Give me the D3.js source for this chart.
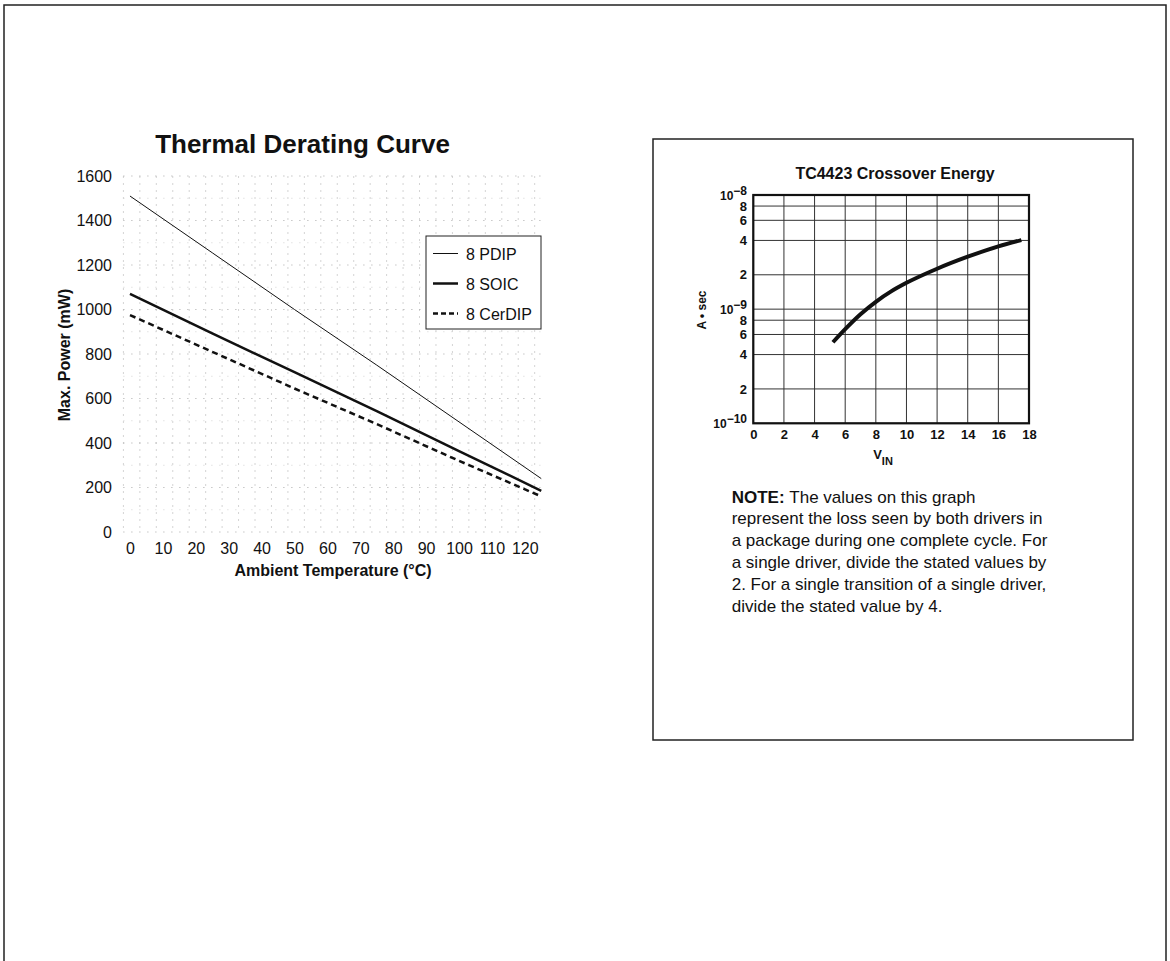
<!DOCTYPE html>
<html>
<head>
<meta charset="utf-8">
<script src="https://cdn.jsdelivr.net/npm/d3@7"></script>
<style>
  body { margin: 0; background: #fff; }
  svg text { font-family: "Liberation Sans", Arial, Helvetica, sans-serif; fill: #111; }
</style>
</head>
<body>
<div id="page"></div>
<script>
// ---- Thermal derating data ----
const tempTicks = [0, 10, 20, 30, 40, 50, 60, 70, 80, 90, 100, 110, 120];
const powerTicks = [0, 200, 400, 600, 800, 1000, 1200, 1400, 1600];
const seriesTemps = [0, 25, 50, 75, 100, 125];
const pdipPower = [1510, 1255, 1000, 750, 495, 240];
const soicPower = [1070, 893, 718, 543, 364, 185];
const cerdipPower = [975, 810, 645, 485, 320, 160];
const packageNames = ["8 PDIP", "8 SOIC", "8 CerDIP"];

// ---- Crossover energy data ----
const vinTicks = [0, 2, 4, 6, 8, 10, 12, 14, 16, 18];
const energyTicks = [1e-10, 2e-10, 4e-10, 6e-10, 8e-10, 1e-9, 2e-9, 4e-9, 6e-9, 8e-9, 1e-8];
const crossoverVin = [5.2, 6, 7, 8, 9, 10, 12, 14, 16, 17.5];
const crossoverEnergy = [5.13e-10, 6.68e-10, 9.02e-10, 1.16e-9, 1.43e-9, 1.70e-9, 2.26e-9, 2.88e-9, 3.55e-9, 4.03e-9];

const noteLines = [
  "The values on this graph",
  "represent the loss seen by both drivers in",
  "a package during one complete cycle. For",
  "a single driver, divide the stated values by",
  "2. For a single transition of a single driver,",
  "divide the stated value by 4."
];

const svg = d3.select("#page").append("svg")
  .attr("width", 1170)
  .attr("height", 961);

// page frame (top, left, right)
svg.append("path")
  .attr("d", "M4,961 V5 H1166 V961")
  .attr("fill", "none")
  .attr("stroke", "#222")
  .attr("stroke-width", 1.5);

/**
 * Left chart: thermal derating curve
 */
function drawDerating() {
  const g = svg.append("g");
  const x = d3.scaleLinear().domain([-2, 126.5]).range([123.4, 546.2]);
  const y = d3.scaleLinear().domain([0, 1600]).range([532, 176]);

  // faint dotted grid
  const gridX = d3.range(-2, 127, 5);
  g.selectAll(".vgrid").data(gridX).join("line")
    .attr("class", "vgrid")
    .attr("x1", d => x(d)).attr("x2", d => x(d))
    .attr("y1", y(1600)).attr("y2", y(0))
    .attr("stroke", "#d4d4d4")
    .attr("stroke-dasharray", "2,5");

  const gridY = d3.range(0, 1601, 100);
  g.selectAll(".hgrid").data(gridY).join("line")
    .attr("class", "hgrid")
    .attr("x1", x(-2)).attr("x2", x(126.5))
    .attr("y1", d => y(d)).attr("y2", d => y(d))
    .attr("stroke", d => d % 200 === 0 ? "#aaa" : "#d4d4d4")
    .attr("stroke-dasharray", "1,7");

  // axes (labels only)
  const xAxis = d3.axisBottom(x).tickValues(tempTicks).tickSize(0).tickPadding(0);
  g.append("g")
    .attr("transform", "translate(0,548)")
    .call(xAxis)
    .call(s => s.select(".domain").remove())
    .selectAll("text")
    .attr("dy", "0.35em")
    .attr("y", 0)
    .style("font-size", "16px");

  const yAxis = d3.axisLeft(y).tickValues(powerTicks).tickSize(0).tickPadding(0)
    .tickFormat(d3.format("d"));
  g.append("g")
    .attr("transform", "translate(112,0)")
    .call(yAxis)
    .call(s => s.select(".domain").remove())
    .selectAll("text")
    .style("font-size", "16px");

  g.selectAll(".tick text").style("font-family", "'Liberation Sans', Arial, sans-serif").attr("fill", "#111");

  // series
  const line = d3.line().x(d => x(d[0])).y(d => y(d[1]));
  const series = [
    { name: packageNames[0], values: pdipPower, width: 1, dash: null },
    { name: packageNames[1], values: soicPower, width: 2.5, dash: null },
    { name: packageNames[2], values: cerdipPower, width: 2.5, dash: "6,4" },
  ];
  series.forEach(s => {
    g.append("path")
      .datum(seriesTemps.map((t, i) => [t, s.values[i]]))
      .attr("fill", "none")
      .attr("stroke", "#111")
      .attr("stroke-width", s.width)
      .attr("stroke-dasharray", s.dash)
      .attr("d", line);
  });

  // legend
  const legend = g.append("g").attr("transform", "translate(426,236)");
  legend.append("rect")
    .attr("width", 115).attr("height", 93)
    .attr("fill", "#fff").attr("stroke", "#222").attr("stroke-width", 1);
  series.forEach((s, i) => {
    const ly = 17.5 + i * 30;
    legend.append("line")
      .attr("x1", 7).attr("x2", 32)
      .attr("y1", ly).attr("y2", ly)
      .attr("stroke", "#111")
      .attr("stroke-width", s.width)
      .attr("stroke-dasharray", s.dash ? "5,3" : null);
    legend.append("text")
      .attr("x", 40).attr("y", ly + 6)
      .style("font-size", "16px")
      .text(s.name);
  });

  // titles
  g.append("text")
    .attr("x", 302.5).attr("y", 153)
    .attr("text-anchor", "middle")
    .style("font-size", "26px").style("font-weight", "bold")
    .text("Thermal Derating Curve");

  g.append("text")
    .attr("x", 333).attr("y", 576)
    .attr("text-anchor", "middle")
    .style("font-size", "16px").style("font-weight", "bold")
    .text("Ambient Temperature (°C)");

  g.append("text")
    .attr("transform", "translate(70,355) rotate(-90)")
    .attr("text-anchor", "middle")
    .style("font-size", "16px").style("font-weight", "bold")
    .text("Max. Power (mW)");
}

/**
 * Right panel: crossover energy with note
 */
function drawCrossover() {
  const g = svg.append("g");

  g.append("rect")
    .attr("x", 653).attr("y", 139)
    .attr("width", 480).attr("height", 601)
    .attr("fill", "none").attr("stroke", "#222").attr("stroke-width", 1.5);

  const x = d3.scaleLinear().domain([0, 18]).range([753.3, 1029]);
  const y = d3.scaleLog().domain([1e-10, 1e-8]).range([423.3, 195]);

  // grid
  g.selectAll(".vgrid").data(vinTicks).join("line")
    .attr("class", "vgrid")
    .attr("x1", d => x(d)).attr("x2", d => x(d))
    .attr("y1", y(1e-8)).attr("y2", y(1e-10))
    .attr("stroke", "#333").attr("stroke-width", 1);
  g.selectAll(".hgrid").data(energyTicks).join("line")
    .attr("class", "hgrid")
    .attr("x1", x(0)).attr("x2", x(18))
    .attr("y1", d => y(d)).attr("y2", d => y(d))
    .attr("stroke", "#333").attr("stroke-width", 1);

  g.append("rect")
    .attr("x", x(0)).attr("y", y(1e-8))
    .attr("width", x(18) - x(0)).attr("height", y(1e-10) - y(1e-8))
    .attr("fill", "none").attr("stroke", "#111").attr("stroke-width", 2.2);

  // x tick labels
  const xAxis = d3.axisBottom(x).tickValues(vinTicks).tickSize(0).tickPadding(0);
  g.append("g")
    .attr("transform", "translate(0,434)")
    .call(xAxis)
    .call(s => s.select(".domain").remove())
    .selectAll("text")
    .attr("y", 0).attr("dy", "0.36em")
    .style("font-size", "13px").style("font-weight", "bold");

  // y tick labels, decades as powers of ten
  const isDecade = d => Math.abs(Math.log10(d) - Math.round(Math.log10(d))) < 1e-6;
  const yAxis = d3.axisLeft(y).tickValues(energyTicks).tickSize(0).tickPadding(0)
    .tickFormat(d => isDecade(d) ? "" : String(Math.round(d / Math.pow(10, Math.floor(Math.log10(d) + 1e-9)))));
  const yg = g.append("g")
    .attr("transform", "translate(747,0)")
    .call(yAxis)
    .call(s => s.select(".domain").remove());
  yg.selectAll("text").style("font-size", "13px").style("font-weight", "bold");
  yg.selectAll(".tick").each(function (d) {
    if (isDecade(d)) {
      const t = d3.select(this).select("text");
      t.append("tspan").style("font-size", "12px").text("10");
      t.append("tspan").attr("dy", "-0.4em").style("font-size", "12px")
        .text("\u2212" + Math.abs(Math.round(Math.log10(d))));
    }
  });
  g.selectAll(".tick text").style("font-family", "'Liberation Sans', Arial, sans-serif").attr("fill", "#111");

  // curve
  const line = d3.line()
    .x(d => x(d[0])).y(d => y(d[1]))
    .curve(d3.curveMonotoneX);
  g.append("path")
    .datum(crossoverVin.map((v, i) => [v, crossoverEnergy[i]]))
    .attr("fill", "none")
    .attr("stroke", "#111")
    .attr("stroke-width", 4)
    .attr("d", line);

  // titles
  g.append("text")
    .attr("x", 895).attr("y", 179)
    .attr("text-anchor", "middle")
    .style("font-size", "16px").style("font-weight", "bold")
    .text("TC4423 Crossover Energy");

  g.append("text")
    .attr("transform", "translate(706,310) rotate(-90)")
    .attr("text-anchor", "middle")
    .style("font-size", "12px").style("font-weight", "bold")
    .text("A \u2022 sec");

  const vin = g.append("text")
    .attr("x", 883).attr("y", 459)
    .attr("text-anchor", "middle")
    .style("font-size", "13px").style("font-weight", "bold");
  vin.append("tspan").text("V");
  vin.append("tspan").attr("dy", 6).style("font-size", "11px").text("IN");

  // note
  const note = g.append("text")
    .attr("x", 731.7).attr("y", 502.5)
    .style("font-size", "17px");
  noteLines.forEach((l, i) => {
    const ts = note.append("tspan").attr("x", 731.7).attr("dy", i === 0 ? 0 : 21.8);
    if (i === 0) {
      ts.append("tspan").style("font-weight", "bold").text("NOTE: ");
      ts.append("tspan").text(l);
    } else {
      ts.text(l);
    }
  });
}

drawDerating();
drawCrossover();
</script>
</body>
</html>
